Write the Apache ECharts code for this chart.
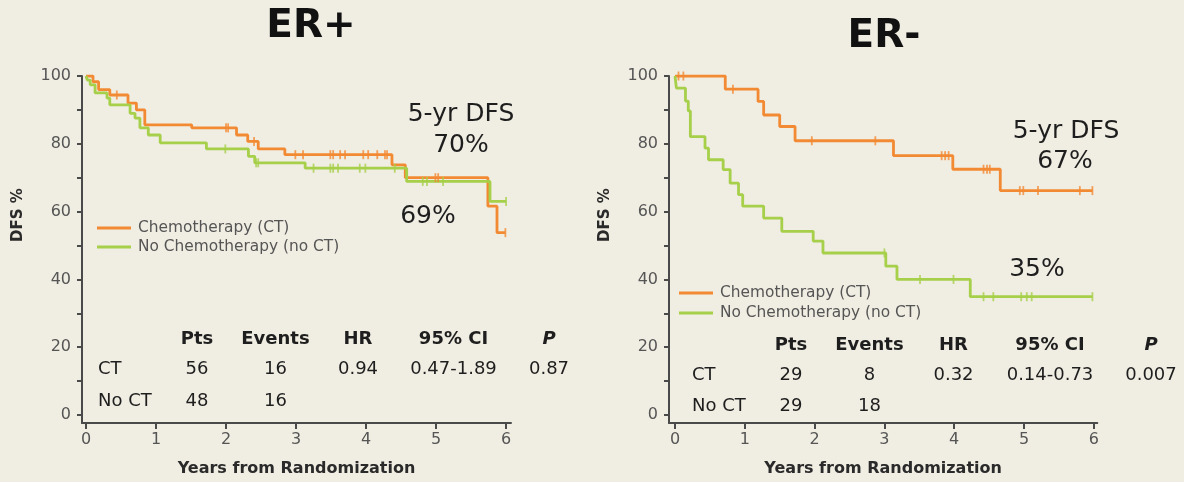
<!DOCTYPE html>
<html>
<head>
<meta charset="utf-8">
<script src="https://cdn.jsdelivr.net/npm/echarts@6/dist/echarts.min.js"></script>
<style>
html,body{margin:0;padding:0;background:#f0ede2;}
#chart{width:1184px;height:482px;}
</style>
</head>
<body>
<div id="chart"></div>
<script>
// ---------- DATA ----------
const panelTitles = ['ER+', 'ER-'];
const seriesNames = ['Chemotherapy (CT)', 'No Chemotherapy (no CT)'];
const xTicks = [0, 1, 2, 3, 4, 5, 6];
const yTicks = [0, 10, 20, 30, 40, 50, 60, 70, 80, 90, 100];
const yLabels = [0, 20, 40, 60, 80, 100];

// ER+ : Kaplan-Meier steps [years, DFS %]
const erPosCT = [[0,100],[0.10,98.3],[0.18,96],[0.34,94.4],[0.60,92],[0.72,90],[0.84,85.6],[1.51,84.7],[2.15,82.6],[2.31,80.7],[2.46,78.5],[2.84,76.8],[4.37,73.8],[4.56,70],[5.74,61.6],[5.87,53.8],[5.99,53.8]];
const erPosCTCens = [[0.44,94.4],[2.0,84.7],[2.03,84.7],[2.4,80.7],[2.99,76.8],[3.1,76.8],[3.49,76.8],[3.53,76.8],[3.63,76.8],[3.7,76.8],[3.96,76.8],[4.03,76.8],[4.16,76.8],[4.27,76.8],[4.3,76.8],[4.99,70],[5.03,70],[5.99,53.8]];
const erPosNoCT = [[0,100],[0.02,98.8],[0.06,97.4],[0.13,95],[0.30,93.5],[0.34,91.5],[0.63,89],[0.70,87.6],[0.77,84.7],[0.89,82.6],[1.06,80.3],[1.72,78.5],[2.32,76.3],[2.41,74.4],[3.13,72.8],[4.58,68.9],[5.77,63],[6.0,63]];
const erPosNoCTCens = [[1.99,78.5],[2.43,74.4],[2.46,74.4],[3.25,72.8],[3.49,72.8],[3.53,72.8],[3.6,72.8],[3.91,72.8],[3.99,72.8],[4.41,72.8],[4.81,68.9],[4.87,68.9],[5.1,68.9],[6.0,63]];

// ER- : Kaplan-Meier steps [years, DFS %]
const erNegCT = [[0,100],[0.72,96.1],[1.19,92.5],[1.27,88.5],[1.50,85.1],[1.72,80.9],[3.13,76.5],[3.98,72.5],[4.66,66.2],[5.98,66.2]];
const erNegCTCens = [[0.05,100],[0.12,100],[0.83,96.1],[1.96,80.9],[2.87,80.9],[3.82,76.5],[3.87,76.5],[3.92,76.5],[4.42,72.5],[4.47,72.5],[4.51,72.5],[4.94,66.2],[4.99,66.2],[5.2,66.2],[5.8,66.2],[5.98,66.2]];
const erNegNoCT = [[0,100],[0.02,96.4],[0.15,92.6],[0.19,89.7],[0.22,82.1],[0.43,78.7],[0.48,75.3],[0.69,72.4],[0.79,68.4],[0.91,65],[0.97,61.6],[1.27,58.1],[1.53,54.2],[1.98,51.3],[2.12,47.8],[3.02,43.9],[3.18,40],[4.23,34.9],[5.98,34.9]];
const erNegNoCTCens = [[3.0,47.8],[3.51,40],[3.99,40],[4.42,34.9],[4.56,34.9],[4.96,34.9],[5.04,34.9],[5.11,34.9],[5.98,34.9]];

// annotations and tables
const dfsPos = ['5-yr DFS', '70%', '69%'];
const dfsNeg = ['5-yr DFS', '67%', '35%'];
const tableHeaders = ['Pts', 'Events', 'HR', '95% CI', 'P'];
const tablePos = [['CT','56','16','0.94','0.47-1.89','0.87'], ['No CT','48','16','','','']];
const tableNeg = [['CT','29','8','0.32','0.14-0.73','0.007'], ['No CT','29','18','','','']];

// ---------- STYLE / LAYOUT ----------
const FONT = 'DejaVu Sans';
const ORANGE = '#f28a33';
const GREEN = '#a6cf4a';
const AXIS = '#4a4a4a';
const LABEL = '#555555';
const TEXT = '#1e1e1e';

const chart = echarts.init(document.getElementById('chart'), null, {renderer: 'canvas'});

function xAx(gi, min, max) {
  return {
    type: 'value', gridIndex: gi, min: min, max: max,
    splitLine: {show: false},
    axisLine: {onZero: false, lineStyle: {color: AXIS, width: 2}},
    axisTick: {show: true, length: 6, lineStyle: {color: AXIS, width: 2}, customValues: xTicks},
    axisLabel: {customValues: xTicks, color: LABEL, fontSize: 16, fontFamily: FONT, margin: 9},
    name: 'Years from Randomization', nameLocation: 'middle', nameGap: 38,
    nameTextStyle: {fontFamily: FONT, fontWeight: 'bold', fontSize: 16, color: '#2a2a2a'}
  };
}
function yAx(gi) {
  return {
    type: 'value', gridIndex: gi, min: -2.35, max: 100,
    splitLine: {show: false},
    axisLine: {onZero: false, lineStyle: {color: AXIS, width: 2}},
    axisTick: {show: true, length: 5, lineStyle: {color: AXIS, width: 2}, customValues: yTicks},
    axisLabel: {customValues: yLabels, color: LABEL, fontSize: 16, fontFamily: FONT, margin: 11}
  };
}
function kmLine(name, data, color, gi) {
  return {
    type: 'line', name: name, xAxisIndex: gi, yAxisIndex: gi, data: data,
    step: 'end', showSymbol: false, symbol: 'none', animation: false,
    lineStyle: {color: color, width: 2.8}, itemStyle: {color: color}, z: 3
  };
}
function cens(name, data, color, gi) {
  return {
    type: 'scatter', name: name, xAxisIndex: gi, yAxisIndex: gi, data: data,
    symbol: 'rect', symbolSize: [1.8, 9], itemStyle: {color: color},
    animation: false, z: 4, silent: true
  };
}
function txt(x, y, text, size, o) {
  o = o || {};
  return {
    type: 'text', x: x, y: y, rotation: o.rotation || 0, silent: true,
    style: {
      text: text, fontSize: size, fontFamily: FONT,
      fontWeight: o.weight || 'normal', fontStyle: o.style || 'normal',
      fill: o.fill || TEXT, align: o.align || 'center', verticalAlign: 'middle'
    }
  };
}

const graphics = [];
// titles
graphics.push(txt(311, 27, panelTitles[0], 39, {weight: 'bold', fill: '#111'}));
graphics.push(txt(884, 37, panelTitles[1], 39, {weight: 'bold', fill: '#111'}));
// y axis names
graphics.push(txt(18, 215, 'DFS %', 15, {weight: 'bold', rotation: Math.PI / 2, fill: '#2a2a2a'}));
graphics.push(txt(605, 215, 'DFS %', 15, {weight: 'bold', rotation: Math.PI / 2, fill: '#2a2a2a'}));
// annotations
graphics.push(txt(461, 114, dfsPos[0], 25));
graphics.push(txt(461, 145, dfsPos[1], 25));
graphics.push(txt(428, 216, dfsPos[2], 25));
graphics.push(txt(1066, 131, dfsNeg[0], 25));
graphics.push(txt(1065, 161, dfsNeg[1], 25));
graphics.push(txt(1037, 269, dfsNeg[2], 25));

function table(rows, labelX, colX, ys) {
  tableHeaders.forEach(function (h, i) {
    graphics.push(txt(colX[i], ys[0], h, 18, {weight: 'bold', style: h === 'P' ? 'italic' : 'normal'}));
  });
  rows.forEach(function (r, ri) {
    graphics.push(txt(labelX, ys[ri + 1], r[0], 18, {align: 'left'}));
    for (let c = 1; c < r.length; c++) {
      if (r[c]) graphics.push(txt(colX[c - 1], ys[ri + 1], r[c], 18));
    }
  });
}
table(tablePos, 98, [197, 275.5, 358, 453.5, 549], [339, 369, 401]);
table(tableNeg, 692, [791, 869.5, 953.5, 1050, 1151], [345, 375, 406]);

const legendBase = {
  orient: 'vertical', padding: 0, itemWidth: 34, itemHeight: 3, selectedMode: false,
  textStyle: {fontFamily: FONT, fontSize: 15.4, color: LABEL, lineHeight: 16, padding: [0, 0, 0, 2]},
  data: seriesNames.map(function (n) { return {name: n, icon: 'rect'}; })
};

const option = {
  backgroundColor: '#f0ede2',
  animation: false,
  grid: [
    {left: 82, top: 76, width: 429, height: 348, containLabel: false},
    {left: 669, top: 76, width: 428.3, height: 348, containLabel: false}
  ],
  xAxis: [xAx(0, -0.057, 6.07), xAx(1, -0.086, 6.05)],
  yAxis: [yAx(0), yAx(1)],
  legend: [
    Object.assign({}, legendBase, {left: 97, top: 220, itemGap: 3}),
    Object.assign({}, legendBase, {left: 679, top: 285, itemGap: 4})
  ],
  series: [
    kmLine(seriesNames[0], erPosCT, ORANGE, 0),
    kmLine(seriesNames[1], erPosNoCT, GREEN, 0),
    cens('CT censored', erPosCTCens, ORANGE, 0),
    cens('No CT censored', erPosNoCTCens, GREEN, 0),
    kmLine(seriesNames[0], erNegCT, ORANGE, 1),
    kmLine(seriesNames[1], erNegNoCT, GREEN, 1),
    cens('CT censored', erNegCTCens, ORANGE, 1),
    cens('No CT censored', erNegNoCTCens, GREEN, 1)
  ],
  graphic: graphics
};
chart.setOption(option);
</script>
</body>
</html>
